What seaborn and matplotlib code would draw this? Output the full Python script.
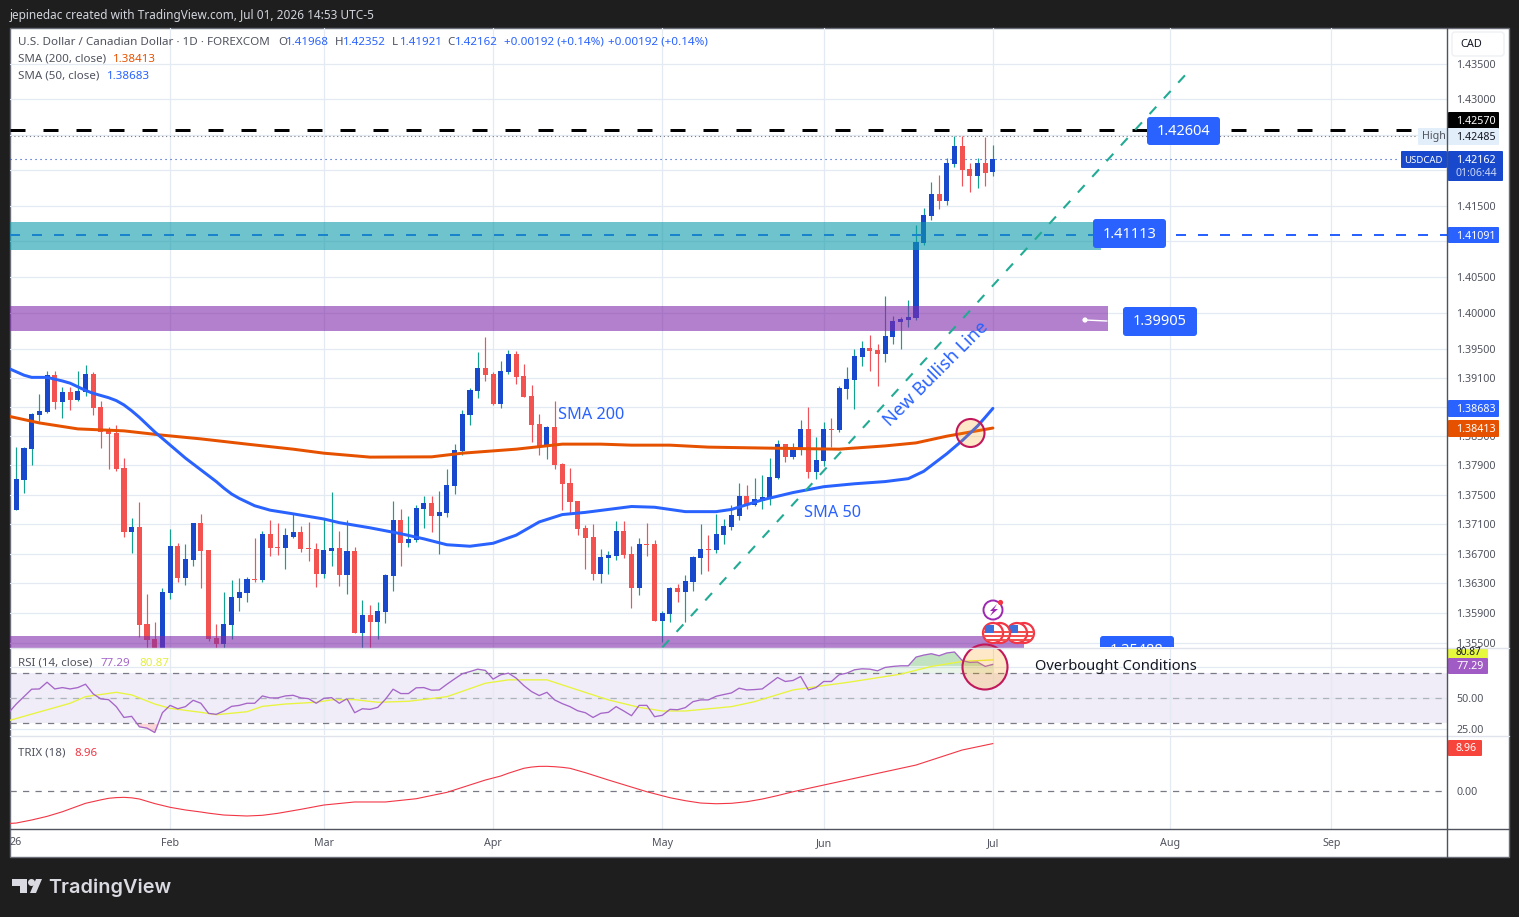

# USD/CAD daily chart, TradingView look
import numpy as np
import pandas as pd
import seaborn as sns
import matplotlib
matplotlib.use('Agg')
import matplotlib.pyplot as plt
from matplotlib.patches import Rectangle, Circle, Polygon, FancyBboxPatch
from matplotlib.ticker import NullLocator
from matplotlib.transforms import Bbox, TransformedBbox

# Step 1: Candle data, one value per session
open_prices = [
    1.37298, 1.37706, 1.38121, 1.38588, 1.38630, 1.39139, 1.38765, 1.38903,
    1.38793, 1.38903, 1.39152, 1.38696, 1.38367, 1.38339, 1.37872, 1.36988,
    1.37057, 1.35748, 1.35552, 1.35350, 1.36163, 1.36808, 1.36375, 1.36610,
    1.37112, 1.36752, 1.35566, 1.35483, 1.35734, 1.36094, 1.36163, 1.36361,
    1.36347, 1.36960, 1.36794, 1.36780, 1.36932, 1.36988, 1.36780, 1.36766,
    1.36430, 1.36738, 1.36780, 1.36416, 1.36738, 1.35622, 1.35872, 1.35776,
    1.35914, 1.36402, 1.37159, 1.36849, 1.36891, 1.37312, 1.37381, 1.37215,
    1.37256, 1.37616, 1.38094, 1.38588, 1.38917, 1.39235, 1.39152, 1.38737,
    1.39179, 1.39428, 1.39125, 1.38848, 1.38463, 1.38149, 1.38422, 1.37914,
    1.37655, 1.37409, 1.37043, 1.36932, 1.36430, 1.36638, 1.36669, 1.37001,
    1.36697, 1.36236, 1.36835, 1.36835, 1.35789, 1.35886, 1.36236, 1.36177,
    1.36319, 1.36638, 1.36766, 1.36752, 1.36946, 1.37057, 1.37215, 1.37478,
    1.37367, 1.37409, 1.37436, 1.37734, 1.38187, 1.38011, 1.38108, 1.38394,
    1.37817, 1.37955, 1.38394, 1.38380, 1.38945, 1.39069, 1.39387, 1.39511,
    1.39484, 1.39428, 1.39663, 1.39872, 1.39900, 1.39927, 1.40972, 1.41352,
    1.41666, 1.41560, 1.42081, 1.42340, 1.42012, 1.41915, 1.42095, 1.41968]
high_prices = [
    1.38149, 1.38159, 1.38616, 1.38876, 1.39193, 1.39193, 1.38973, 1.38973,
    1.39193, 1.39276, 1.39179, 1.38779, 1.38422, 1.38450, 1.37997, 1.37187,
    1.37395, 1.36149, 1.35776, 1.36236, 1.37029, 1.36849, 1.36835, 1.37112,
    1.37243, 1.36752, 1.35748, 1.36181, 1.36347, 1.36375, 1.36388, 1.36918,
    1.37001, 1.37154, 1.37112, 1.37043, 1.37243, 1.37071, 1.37126, 1.36849,
    1.37173, 1.37533, 1.37001, 1.37159, 1.36794, 1.36066, 1.36011, 1.36052,
    1.36430, 1.37409, 1.37312, 1.37215, 1.37367, 1.37478, 1.37478, 1.37547,
    1.37845, 1.38187, 1.38654, 1.38959, 1.39456, 1.39664, 1.39179, 1.39331,
    1.39484, 1.39470, 1.39290, 1.39000, 1.38602, 1.38436, 1.38779, 1.37928,
    1.37872, 1.37409, 1.37084, 1.37098, 1.36766, 1.36738, 1.37140, 1.37140,
    1.36808, 1.36918, 1.37112, 1.36891, 1.35928, 1.36250, 1.36292, 1.36416,
    1.36665, 1.37098, 1.36946, 1.37243, 1.37173, 1.37367, 1.37665, 1.37630,
    1.37734, 1.37775, 1.37997, 1.38242, 1.38200, 1.38214, 1.38519, 1.38696,
    1.38283, 1.38491, 1.38546, 1.38986, 1.39248, 1.39498, 1.39608, 1.39691,
    1.39567, 1.40235, 1.39955, 1.39941, 1.40180, 1.41228, 1.41463, 1.41832,
    1.41929, 1.42164, 1.42478, 1.42478, 1.42095, 1.42164, 1.42465, 1.42352]
low_prices = [
    1.37298, 1.37519, 1.37900, 1.38505, 1.38616, 1.38668, 1.38546, 1.38654,
    1.38779, 1.38848, 1.38588, 1.38135, 1.37845, 1.37831, 1.36932, 1.36711,
    1.35580, 1.35350, 1.35300, 1.35300, 1.36080, 1.36319, 1.36278, 1.36527,
    1.36236, 1.35525, 1.35350, 1.35380, 1.35552, 1.35928, 1.36039, 1.36319,
    1.36319, 1.36669, 1.36683, 1.36485, 1.36918, 1.36725, 1.36596, 1.36250,
    1.36375, 1.36527, 1.36264, 1.36149, 1.35622, 1.35380, 1.35380, 1.35552,
    1.35762, 1.36195, 1.36527, 1.36794, 1.36863, 1.37043, 1.36988, 1.36697,
    1.37201, 1.37506, 1.38038, 1.38450, 1.38820, 1.39056, 1.38723, 1.38682,
    1.39152, 1.39014, 1.38834, 1.38228, 1.38038, 1.37983, 1.37858, 1.37298,
    1.37256, 1.36946, 1.36485, 1.36347, 1.36305, 1.36430, 1.36610, 1.36638,
    1.35969, 1.36135, 1.36669, 1.35789, 1.35502, 1.35776, 1.36039, 1.35776,
    1.36195, 1.36430, 1.36471, 1.36711, 1.36835, 1.37015, 1.37154, 1.37312,
    1.37353, 1.37312, 1.37367, 1.37720, 1.37941, 1.37983, 1.38038, 1.37734,
    1.37720, 1.37886, 1.38149, 1.38353, 1.38806, 1.38668, 1.39262, 1.39193,
    1.38986, 1.39317, 1.39567, 1.39497, 1.39803, 1.39900, 1.40945, 1.41297,
    1.41449, 1.41504, 1.42039, 1.41776, 1.41693, 1.41749, 1.41776, 1.41921]
close_prices = [
    1.37720, 1.38135, 1.38602, 1.38643, 1.39139, 1.38765, 1.38903, 1.38793,
    1.38917, 1.39152, 1.38682, 1.38353, 1.38325, 1.37858, 1.36988, 1.37057,
    1.35734, 1.35538, 1.35400, 1.36177, 1.36808, 1.36375, 1.36624, 1.37112,
    1.36738, 1.35552, 1.35483, 1.35748, 1.36108, 1.36177, 1.36361, 1.36347,
    1.36960, 1.36780, 1.36780, 1.36946, 1.36988, 1.36766, 1.36766, 1.36430,
    1.36752, 1.36780, 1.36416, 1.36738, 1.35622, 1.35872, 1.35776, 1.35928,
    1.36416, 1.37159, 1.36849, 1.36904, 1.37326, 1.37381, 1.37215, 1.37270,
    1.37630, 1.38108, 1.38602, 1.38931, 1.39235, 1.39139, 1.38737, 1.39193,
    1.39428, 1.39111, 1.38834, 1.38450, 1.38149, 1.38422, 1.37900, 1.37644,
    1.37395, 1.37029, 1.36918, 1.36430, 1.36651, 1.36683, 1.37001, 1.36683,
    1.36236, 1.36835, 1.36821, 1.35789, 1.35900, 1.36236, 1.36177, 1.36333,
    1.36651, 1.36766, 1.36752, 1.36960, 1.37071, 1.37229, 1.37478, 1.37367,
    1.37436, 1.37464, 1.37748, 1.38187, 1.38011, 1.38121, 1.38394, 1.37817,
    1.37969, 1.38394, 1.38380, 1.38959, 1.39083, 1.39401, 1.39511, 1.39470,
    1.39428, 1.39677, 1.39886, 1.39914, 1.39941, 1.40986, 1.41366, 1.41666,
    1.41560, 1.42095, 1.42340, 1.41998, 1.41915, 1.42095, 1.41956, 1.42162]

# moving averages, sampled at some sessions
sma50_idx = [-1, 1, 2, 4, 6, 7, 9, 10, 11, 12, 13, 14, 15, 16, 17, 18, 19, 20, 21, 22, 23, 24, 25, 26, 27, 28,
             29, 30, 31, 32, 33, 36, 40, 42, 46, 50, 53, 56, 59, 62, 65, 68, 71, 74, 77, 80, 83, 87, 91, 93,
             97, 101, 105, 109, 113, 116, 118, 119, 120, 121, 122, 123, 124, 125, 126, 127]
sma50_val = [1.39234, 1.3914, 1.3911, 1.3911, 1.3906, 1.3903, 1.3893, 1.3889, 1.3886, 1.3883, 1.3879, 1.3873,
             1.3865, 1.3856, 1.3846, 1.3836, 1.3827, 1.3818, 1.3809, 1.3800, 1.3792, 1.3784, 1.3776, 1.3768,
             1.3759, 1.3751, 1.3745, 1.3740, 1.3735, 1.3732, 1.3729, 1.3724, 1.3717, 1.3712, 1.3705, 1.3697,
             1.3690, 1.3682, 1.3680, 1.3684, 1.3695, 1.3713, 1.3723, 1.3726, 1.3730, 1.3734, 1.3733, 1.3727,
             1.3727, 1.3730, 1.3743, 1.3753, 1.3761, 1.3765, 1.3768, 1.3772, 1.3782, 1.3790, 1.3798, 1.3806,
             1.3815, 1.3824, 1.3834, 1.3844, 1.3856, 1.38683]
sma200_idx = [-1, 3, 8, 14, 19, 24, 30, 36, 40, 46, 54, 58, 65, 71, 76, 80, 85, 90, 98, 107, 113, 117, 121, 127]
sma200_val = [1.38575, 1.38483, 1.38401, 1.38374, 1.38315, 1.38264, 1.38192, 1.38123, 1.38068, 1.38014,
              1.38018, 1.38068, 1.38123, 1.38192, 1.38192, 1.38178, 1.38178, 1.38151, 1.38137, 1.38123,
              1.38168, 1.38209, 1.38301, 1.38413]

# RSI per session starting at the session cut off by the left edge
rsi_val = [38.4, 45.4, 51.3, 57.3, 57.5, 62.9, 57.5, 58.6, 57.5, 58.6, 61.3, 53.5, 49.5, 48.9, 43.3, 34.6,
           35.5, 27.1, 26.0, 22.5, 38.4, 44.3, 41.6, 43.3, 48.4, 46.0, 37.9, 37.1, 39.8, 43.5, 44.3, 46.0,
           46.0, 51.9, 50.3, 50.3, 51.9, 52.4, 50.3, 49.7, 46.0, 50.0, 50.5, 46.0, 49.7, 38.4, 41.6, 41.1,
           42.7, 49.2, 57.3, 53.8, 53.8, 58.4, 58.6, 56.5, 56.7, 61.3, 65.6, 69.7, 71.5, 73.4, 72.4, 65.4,
           68.9, 70.2, 66.2, 60.2, 55.4, 52.2, 54.8, 48.7, 45.7, 43.3, 40.0, 38.4, 34.6, 37.9, 38.7, 43.3,
           39.8, 36.0, 44.3, 44.3, 35.2, 36.3, 41.1, 40.8, 42.5, 47.3, 48.7, 48.7, 51.6, 53.0, 54.3, 58.1,
           56.7, 57.0, 57.5, 62.1, 66.7, 63.5, 64.3, 67.5, 56.7, 58.6, 63.5, 63.5, 68.9, 70.2, 72.9, 73.7,
           73.4, 72.1, 74.8, 75.6, 76.1, 76.1, 83.1, 84.7, 85.8, 84.2, 86.4, 87.2, 80.4, 78.8, 79.1, 75.6,
           77.29]
rsi_ma_idx = [-1, 2, 7, 9, 13, 15, 18, 20, 24, 26, 30, 32, 35, 39, 41, 44, 47, 51, 56, 61, 64, 69, 73, 77,
              81, 84, 87, 93, 96, 101, 105, 108, 115, 119, 123, 127]
rsi_ma_val = [32.0, 37.3, 46.0, 51.3, 54.8, 52.7, 45.4, 41.9, 38.7, 36.8, 39.2, 43.5, 45.4, 46.8, 48.7, 48.9,
              46.8, 47.6, 51.3, 62.1, 64.8, 64.8, 56.7, 48.7, 42.7, 39.8, 39.8, 43.3, 47.3, 56.7, 60.2, 62.7,
              69.4, 75.6, 79.6, 80.87]
trix_idx = [-1, 0, 2, 4, 6, 7, 9, 11, 12, 13, 14, 15, 16, 18, 20, 22, 24, 25, 27, 30, 32, 34, 37, 40, 44, 48,
            52, 56, 61, 63, 64, 66, 67, 68, 69, 70, 71, 72, 74, 77, 82, 85, 87, 89, 91, 93, 95, 97, 99, 101,
            108, 117, 123, 127]
trix_val = [-6.04, -5.95, -5.38, -4.7, -3.83, -3.3, -2.25, -1.6, -1.31, -1.18, -1.13, -1.22, -1.44, -2.3, -3.0,
            -3.5, -3.88, -4.1, -4.45, -4.63, -4.5, -4.13, -3.38, -2.57, -2.0, -2.0, -1.39, -0.19, 2.12, 2.87,
            3.4, 4.32, 4.55, 4.68, 4.69, 4.62, 4.5, 4.32, 3.5, 2.12, -0.08, -1.2, -1.76, -2.2, -2.33, -2.25,
            -1.95, -1.45, -0.8, -0.08, 2.12, 4.93, 7.75, 8.96]

# axis ticks
month_idx = [20, 40, 62, 84, 105, 127, 150, 171]
month_names = ['Feb', 'Mar', 'Apr', 'May', 'Jun', 'Jul', 'Aug', 'Sep']
price_ticks = [1.435, 1.43, 1.425, 1.42, 1.415, 1.41, 1.405, 1.40, 1.395, 1.391, 1.387, 1.383,
               1.379, 1.375, 1.371, 1.367, 1.363, 1.359, 1.355]
hidden_ticks = [1.425, 1.42, 1.41, 1.387]

# drawn levels and zones
high_level = 1.42570
day_high = 1.42485
last_close = 1.42162
support_level = 1.41091
teal_zone = (1.40875, 1.41267, 141)
purple_zone = (1.39747, 1.40095, 142)
low_zone = (1.3530, 1.35593, 131)
trend_idx = [84, 152]
trend_val = [1.35433, 1.43343]

# Step 2: Figure and panes, sized in pixels
W, H = 1519, 917
DARK = '#1E1E1E'
BLUE = '#2962FF'
BODY_BLUE = '#1848CC'
ORANGE = '#E65100'
GRID = '#E3EAF2'
GREY = '#50535E'

sns.set_theme(style='white')
plt.rcParams['font.family'] = ['Noto Sans', 'DejaVu Sans']
fig = plt.figure(figsize=(W / 100, H / 100), dpi=100, facecolor=DARK)


def pane(x0, y0, x1, y1, z):
    a = fig.add_axes([x0 / W, 1 - y1 / H, (x1 - x0) / W, (y1 - y0) / H], zorder=z)
    for s in a.spines.values():
        s.set_visible(False)
    return a


bg = pane(0, 0, W, H, 0)
bg.set_xlim(0, W)
bg.set_ylim(H, 0)
bg.axis('off')
bg.add_patch(Rectangle((10, 28), 1499, 829, facecolor='white', edgecolor='#6A6D78', lw=1))

ax = pane(10, 28, 1447, 647.5, 1)
ax_rsi = pane(10, 648, 1447, 735, 1)
ax_trix = pane(10, 736, 1447, 829, 1)
ov = pane(0, 0, W, H, 5)
ov.set_xlim(0, W)
ov.set_ylim(H, 0)
ov.axis('off')
ov.patch.set_alpha(0)

xlim = (-0.82, 186.05)
for a in (ax, ax_rsi, ax_trix):
    a.set_axisbelow(True)
    a.patch.set_alpha(0)
    a.grid(True, color=GRID, lw=0.9)
    a.set_xticks(month_idx)
    a.yaxis.tick_right()
    a.tick_params(length=0, labelsize=7.7, labelcolor=GREY, labelbottom=False, pad=6.5)

# Step 3: Candles and moving averages
candles = pd.DataFrame({'open': open_prices, 'high': high_prices, 'low': low_prices, 'close': close_prices})
candles['idx'] = candles.index
up = candles['close'] >= candles['open']
ax.set_yscale('log')
ax.yaxis.set_minor_locator(NullLocator())
ax.vlines(candles['idx'], candles['low'], candles['high'],
          colors=np.where(up, '#12A08F', '#F0525A'), lw=0.85, zorder=2)
body_low = candles[['open', 'close']].min(axis=1)
body_h = np.maximum((candles['close'] - candles['open']).abs(), 0.00012)
ax.bar(candles['idx'], body_h, bottom=body_low, width=0.66,
       color=np.where(up, BODY_BLUE, '#F25350'), linewidth=0, zorder=2.5)

sns.lineplot(x=sma200_idx, y=sma200_val, ax=ax, color=ORANGE, lw=2.15, zorder=3)
sns.lineplot(x=sma50_idx, y=sma50_val, ax=ax, color=BLUE, lw=2.15, zorder=3.2)

# Step 4: Levels, zones and the trend line
ax.plot([-0.82, 181.4], [high_level] * 2, color='black', lw=2.16, ls=(0, (5, 6)), zorder=5)
ax.plot([-0.82, 182.3], [day_high] * 2, color='#787B86', lw=0.8, ls=(0, (1, 2.5)), zorder=1.5)
ax.plot([-0.82, 180], [last_close] * 2, color=BODY_BLUE, lw=0.8, ls=(0, (1, 3.5)), zorder=1.5)
ax.plot([-0.82, 186.05], [support_level] * 2, color=BLUE, lw=1.44, ls=(0, (5, 6)), zorder=3.5)
for lo, hi, end, col in [(*teal_zone, '#0F9BAA'), (*purple_zone, '#802BAA'), (*low_zone, '#802BAA')]:
    ax.fill_between([-2, end], lo, hi, color=col, alpha=0.6, lw=0, zorder=4)
ax.plot(trend_idx, trend_val, color='#22AB94', lw=1.5, ls=(0, (4.8, 5.4)), zorder=6)

ax.set_ylim(1.35433, 1.44014)
ax.set_xlim(*xlim)
ax.set_yticks(price_ticks)
ax.set_yticklabels(['' if t in hidden_ticks else f'{t:.5f}' for t in price_ticks])
ax.yaxis.set_minor_locator(NullLocator())

# Step 5: RSI pane
rsi_x = np.arange(-1, 128)
rsi_arr = np.array(rsi_val)
ax_rsi.axhspan(30, 70, color='#7E57C2', alpha=0.11, lw=0, zorder=0.5)
for lev in (70, 50, 30):
    ax_rsi.axhline(lev, color='#787B86', lw=0.9, ls=(0, (5, 5)), zorder=1, alpha=0.5 if lev == 50 else 1)
ax_rsi.fill_between(rsi_x, 70, rsi_arr, where=rsi_arr > 70, interpolate=True, color='#4CAF50', alpha=0.12, lw=0)
ax_rsi.fill_between(rsi_x, 76, rsi_arr, where=rsi_arr > 76, interpolate=True, color='#4CAF50', alpha=0.25, lw=0)
ax_rsi.fill_between(rsi_x, 30, rsi_arr, where=rsi_arr < 30, interpolate=True, color='#F23645', alpha=0.2, lw=0)
sns.lineplot(x=rsi_ma_idx, y=rsi_ma_val, ax=ax_rsi, color='#E8F53C', lw=0.95, zorder=3)
sns.lineplot(x=rsi_x, y=rsi_val, ax=ax_rsi, color='#A566C8', lw=0.95, zorder=3.2)
ax_rsi.set_xlim(*xlim)
ax_rsi.set_ylim(20.5, 90.4)
ax_rsi.set_yticks([25, 50, 75])
ax_rsi.set_yticklabels(['25.00', '50.00', ''])

# Step 6: TRIX pane
ax_trix.axhline(0, color='#787B86', lw=0.9, ls=(0, (5, 5)), zorder=1)
sns.lineplot(x=trix_idx, y=trix_val, ax=ax_trix, color='#F23645', lw=0.8, zorder=3)
ax_trix.set_xlim(*xlim)
ax_trix.set_ylim(-7.07, 10.38)
ax_trix.set_yticks([0])
ax_trix.set_yticklabels(['0.00'])
ax_trix.set_xticklabels(month_names)
ax_trix.tick_params(axis='x', labelbottom=True, pad=6.2)
ax_trix.grid(False, axis='y')


# Step 7: Overlay, labels and drawings in pixel positions
def txt(x, y, s, color=GREY, size=8.3, ha='left', **kw):
    return ov.text(x, y + 1.3, s, color=color, fontsize=size, ha=ha, va='center', **kw)


def box(x0, y0, x1, y1, color, r=2, **kw):
    p = FancyBboxPatch((x0 + r, y0 + r), x1 - x0 - 2 * r, y1 - y0 - 2 * r,
                       boxstyle=f'round,pad={r},rounding_size={r}', facecolor=color, edgecolor='none', **kw)
    ov.add_patch(p)
    return p


# pane separators and axis lines
ov.plot([10, 1509], [647.5, 647.5], color='#E0E3EB', lw=1)
ov.plot([10, 1509], [735.5, 735.5], color='#E0E3EB', lw=1)
ov.plot([10, 1509], [829, 829], color=GREY, lw=1)
ov.plot([1447, 1447], [28, 857], color=GREY, lw=1)

# header
txt(10, 14, 'jepinedac created with TradingView.com, Jul 01, 2026 14:53 UTC-5', color='#D1D4DC', size=8.5)
txt(18, 41, 'U.S. Dollar / Canadian Dollar · 1D · FOREXCOM', size=8.4)
for x, lab, val in [(278, 'O', '1.41968'), (335, 'H', '1.42352'), (392, 'L', '1.41921'), (447, 'C', '1.42162')]:
    txt(x, 41, lab)
    txt(x + 8, 41, val, color=BLUE)
txt(504, 41, '+0.00192 (+0.14%)', color=BLUE, size=8.4)
txt(608, 41, '+0.00192 (+0.14%)', color=BLUE, size=8.4)
txt(18, 58, 'SMA (200, close)', size=8.3)
txt(113, 58, '1.38413', color=ORANGE)
txt(18, 75, 'SMA (50, close)', size=8.3)
txt(107, 75, '1.38683', color=BLUE)
txt(18, 662, 'RSI (14, close)', size=8.3)
txt(101, 662, '77.29', color='#A566C8')
txt(139, 662, '80.87', color='#E4EE3A')
txt(18, 752, 'TRIX (18)', size=8.3)
txt(74, 752, '8.96', color='#F23645')
txt(10, 841, '26', color=GREY, size=7.7)

# zone annotations on the chart
box(1147, 117, 1220, 145, BLUE, r=3)
txt(1183.5, 130, '1.42604', color='white', size=10.5, ha='center')
box(1093, 219, 1166, 248, BLUE, r=3)
txt(1129.5, 233, '1.41113', color='white', size=10.5, ha='center')
box(1123, 307, 1197, 336, BLUE, r=3)
txt(1160, 320, '1.39905', color='white', size=10.5, ha='center')
ov.plot([1085, 1107], [320, 321], color='white', lw=1)
ov.add_patch(Circle((1085, 320), 2.6, color='white', lw=0))
clip_main = TransformedBbox(Bbox([[0, 28], [W, 647]]), ov.transData)
cut_box = box(1100, 636, 1174, 664, BLUE, r=3)
cut_box.set_clip_box(clip_main)
cut_txt = txt(1137, 649, '1.35488', color='white', size=10.5, ha='center')
cut_txt.set_clip_box(clip_main)
cut_txt.set_clip_on(True)

txt(558, 414, 'SMA 200', color=BLUE, size=11.7)
txt(804, 512, 'SMA 50', color=BLUE, size=11.7)
txt(936.5, 373, 'New Bullish Line', color=BLUE, size=13, ha='center', rotation=45, rotation_mode='anchor')
txt(1035, 665, 'Overbought Conditions', color='#131722', size=10.6)

ov.add_patch(Circle((970.5, 433), 14, facecolor='#FF9800', alpha=0.22, lw=0))
ov.add_patch(Circle((970.5, 433), 14, facecolor='none', edgecolor='#C2185B', lw=1.5))
ov.add_patch(Circle((985, 667), 22.5, facecolor='#FF9800', alpha=0.22, lw=0))
ov.add_patch(Circle((985, 667), 22.5, facecolor='none', edgecolor='#C2185B', lw=1.5))

# event markers, the rightmost one lies at the back
ov.add_patch(Circle((993, 610), 9.5, facecolor='white', edgecolor='#9C27B0', lw=1.4))
ov.add_patch(Polygon([(997, 604), (990, 611), (993, 611), (990, 616), (998, 609), (994, 609)], color='#9C27B0', lw=0))
ov.add_patch(Circle((1000.5, 602.5), 2.6, color='#F23645', lw=0))
for n, cx in enumerate((1024, 1017, 1000, 993)):
    z = 4 + n
    c = Circle((cx, 633), 10, facecolor='white', edgecolor='#F23645', lw=1.6, zorder=z + 0.3)
    ov.add_patch(c)
    for sy in (630.5, 634.5, 638.5):
        s = Rectangle((cx - 10, sy), 20, 2, color='#F2524F', lw=0, zorder=z + 0.4)
        ov.add_patch(s)
        s.set_clip_path(c)
    u = Rectangle((cx - 8, 625), 8.5, 8, color='#3F6FD8', lw=0, zorder=z + 0.5)
    ov.add_patch(u)
    u.set_clip_path(c)

# price scale
ov.add_patch(FancyBboxPatch((1454, 34), 48, 20, boxstyle='round,pad=2,rounding_size=3',
                            facecolor='white', edgecolor='#EEF0F3', lw=1))
txt(1460, 43.5, 'CAD', color='#131722', size=7.9)
box(1448, 112, 1499, 129, 'black', r=1)
txt(1456, 120, '1.42570', color='white', size=7.7, weight='bold')
box(1418, 128, 1499, 145, '#E3EEFB', r=1)
txt(1422, 135.5, 'High', color=GREY, size=7.7)
txt(1456, 136, '1.42485', color='#131722', size=7.7)
box(1401, 151, 1447, 168, BODY_BLUE, r=1)
txt(1404, 159, 'USDCAD', color='white', size=6.9, weight='bold')
box(1448, 151, 1503, 181, BODY_BLUE, r=1)
txt(1456, 159, '1.42162', color='white', size=7.7, weight='bold')
txt(1456, 172, '01:06:44', color='#C9D6F5', size=7.5)
box(1448, 227, 1499, 243, BLUE, r=1)
txt(1456, 235, '1.41091', color='white', size=7.7, weight='bold')
box(1448, 400, 1499, 417, BLUE, r=1)
txt(1456, 408, '1.38683', color='white', size=7.7, weight='bold')
box(1448, 420, 1499, 437, ORANGE, r=1)
txt(1456, 428, '1.38413', color='white', size=7.7, weight='bold')
ov.add_patch(Rectangle((1448, 648), 40, 10, color='#E7F93C', lw=0))
txt(1456, 651.5, '80.87', color='#131722', size=7.3)
box(1448, 658, 1488, 674, '#A05CC4', r=1)
txt(1456, 665, '77.29', color='white', size=7.7, weight='bold')
box(1448, 740, 1482, 756, '#F7453C', r=1)
txt(1456, 747, '8.96', color='white', size=7.7, weight='bold')

# logo
LOGO = '#DADAE2'
ov.add_patch(Polygon([(12, 879), (27, 879), (27, 893), (20, 893), (20, 886), (12, 886)], color=LOGO, lw=0))
ov.add_patch(Circle((31.5, 882.5), 3.5, color=LOGO, lw=0))
ov.add_patch(Polygon([(30, 893), (36, 879), (42, 879), (36, 893)], color=LOGO, lw=0))
txt(48, 886, 'TradingView', color=LOGO, size=14.3, family='Inter', weight='semibold')

fig.savefig('out.png', dpi=100, facecolor=DARK)
